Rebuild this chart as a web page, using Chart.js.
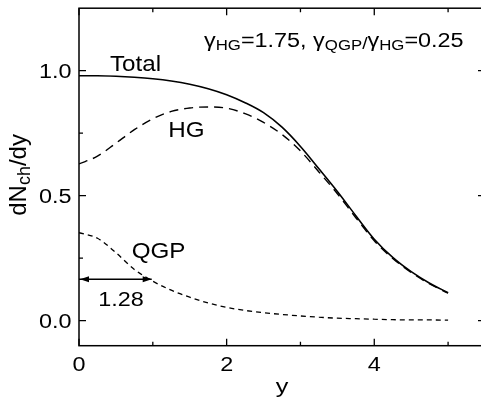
<!DOCTYPE html>
<html>
<head>
<meta charset="utf-8">
<script src="https://cdn.jsdelivr.net/npm/chart.js@4.4.0/dist/chart.umd.min.js"></script>
<style>
  html, body { margin: 0; padding: 0; background: #fff; overflow: hidden; }
  #wrap { position: relative; width: 485px; height: 398px; }
</style>
</head>
<body>
<div id="wrap"><canvas id="rapidityChart"></canvas></div>
<script>
// values, rapidity step 0.25
var rapidity = [0, 0.25, 0.5, 0.75, 1.0, 1.25, 1.5, 1.75, 2.0, 2.25, 2.5,
                2.75, 3.0, 3.25, 3.5, 3.75, 4.0, 4.25, 4.5, 4.75, 5.0];
var totalYield = [0.980, 0.980, 0.978, 0.974, 0.968, 0.959, 0.946, 0.928, 0.904, 0.872, 0.832,
                  0.774, 0.697, 0.608, 0.517, 0.420, 0.326, 0.253, 0.196, 0.150, 0.112];
var hgYield = [0.627, 0.658, 0.710, 0.764, 0.808, 0.837, 0.851, 0.855, 0.850, 0.828, 0.793,
               0.745, 0.679, 0.595, 0.508, 0.412, 0.320, 0.249, 0.193, 0.147, 0.110];
var qgpYield = [0.352, 0.330, 0.272, 0.205, 0.158, 0.122, 0.094, 0.071, 0.053, 0.041, 0.032,
                0.025, 0.019, 0.014, 0.010, 0.008, 0.006, 0.004, 0.003, 0.003, 0.002];
var xTickValues = [0, 2, 4];
var xMinorTicks = [1, 3, 5];
var yTickValues = [0.0, 0.5, 1.0];
var yMinorTicks = [0.25, 0.75];
var arrowEnds = [0, 0.985];   // the "1.28" width arrow
var arrowLevel = 0.166;

var FONT = '"Liberation Sans", Arial, Helvetica, sans-serif';
var SX = 1.2; // text in the figure is a bit wide

function toPoints(xs, ys) {
  return xs.map(function (x, i) { return { x: x, y: ys[i] }; });
}

// parts: [text, size, dy]
function drawRich(ctx, parts, x, y, align, sx) {
  var total = 0;
  parts.forEach(function (p) {
    ctx.font = p[1] + 'px ' + FONT;
    total += ctx.measureText(p[0]).width * sx;
  });
  var cx = x;
  if (align === 'right') cx = x - total;
  if (align === 'center') cx = x - total / 2;
  parts.forEach(function (p) {
    ctx.font = p[1] + 'px ' + FONT;
    var w = ctx.measureText(p[0]).width * sx;
    ctx.save();
    ctx.translate(cx, y + p[2]);
    ctx.scale(sx, 1);
    ctx.textAlign = 'left';
    ctx.textBaseline = 'alphabetic';
    ctx.fillText(p[0], 0, 0);
    ctx.restore();
    cx += w;
  });
}

var framePlugin = {
  id: 'frame',
  afterDraw: function (chart) {
    var ctx = chart.ctx;
    var a = chart.chartArea;
    var xs = chart.scales.x, ys = chart.scales.y;
    ctx.save();
    ctx.strokeStyle = '#000';
    ctx.fillStyle = '#000';
    ctx.lineWidth = 1.5;
    ctx.strokeRect(a.left, a.top, a.right - a.left, a.bottom - a.top);

    // inward ticks on all four sides
    ctx.lineWidth = 1.3;
    function xTick(v, len) {
      var px = xs.getPixelForValue(v);
      ctx.beginPath();
      ctx.moveTo(px, a.bottom); ctx.lineTo(px, a.bottom - len);
      ctx.moveTo(px, a.top); ctx.lineTo(px, a.top + len);
      ctx.stroke();
    }
    function yTick(v, len) {
      var py = ys.getPixelForValue(v);
      ctx.beginPath();
      ctx.moveTo(a.left, py); ctx.lineTo(a.left + len, py);
      ctx.moveTo(a.right, py); ctx.lineTo(a.right - len, py);
      ctx.stroke();
    }
    xTickValues.forEach(function (v) { xTick(v, 7); });
    xMinorTicks.forEach(function (v) { xTick(v, 4); });
    yTickValues.forEach(function (v) { yTick(v, 7); });
    yMinorTicks.forEach(function (v) { yTick(v, 4); });

    // tick labels
    xTickValues.forEach(function (v) {
      drawRich(ctx, [[String(v), 19.5, 0]], xs.getPixelForValue(v), a.bottom + 25, 'center', SX);
    });
    yTickValues.forEach(function (v) {
      drawRich(ctx, [[v.toFixed(1), 19.5, 0]], a.left - 7.5, ys.getPixelForValue(v) + 7, 'right', SX);
    });

    // axis titles
    drawRich(ctx, [['y', 21, 0]], (a.left + a.right) / 2, 392.5, 'center', SX);
    ctx.save();
    ctx.translate(26, (a.top + a.bottom) / 2 - 2);
    ctx.rotate(-Math.PI / 2);
    drawRich(ctx, [['dN', 24, 0], ['ch', 18, 4], ['/dy', 24, 0]], 0, 0, 'center', 1);
    ctx.restore();

    // curve labels
    function at(x, y) { return [xs.getPixelForValue(x), ys.getPixelForValue(y)]; }
    var p;
    p = at(0.42, 0.998); drawRich(ctx, [['Total', 22, 0]], p[0], p[1], 'left', 1.1);
    p = at(1.21, 0.736); drawRich(ctx, [['HG', 22, 0]], p[0], p[1], 'left', 1.1);
    p = at(0.713, 0.252); drawRich(ctx, [['QGP', 22, 0]], p[0], p[1], 'left', 1.1);
    p = at(0.26, 0.06); drawRich(ctx, [['1.28', 19.5, 0]], p[0], p[1], 'left', SX);

    drawRich(ctx, [['\u03b3', 19.5, 0], ['HG', 14, 3.5], ['=1.75, ', 19.5, 0],
                   ['\u03b3', 19.5, 0], ['QGP', 14, 3.5], ['/', 16, 2], ['\u03b3', 19.5, 0],
                   ['HG', 14, 3.5], ['=0.25', 19.5, 0]], 204, 46.7, 'left', SX);

    // arrow heads of the width marker
    var yA = ys.getPixelForValue(arrowLevel);
    var xL = xs.getPixelForValue(arrowEnds[0]) + 1;
    var xR = xs.getPixelForValue(arrowEnds[1]);
    ctx.beginPath();
    ctx.moveTo(xL, yA); ctx.lineTo(xL + 9, yA - 3); ctx.lineTo(xL + 9, yA + 3); ctx.closePath();
    ctx.fill();
    ctx.beginPath();
    ctx.moveTo(xR, yA); ctx.lineTo(xR - 9, yA - 3); ctx.lineTo(xR - 9, yA + 3); ctx.closePath();
    ctx.fill();
    ctx.restore();
  }
};

var ctxRapidity = document.getElementById('rapidityChart').getContext('2d');
var rapidityChart = new Chart(ctxRapidity, {
  type: 'line',
  data: {
    datasets: [{
      label: 'Total',
      data: toPoints(rapidity, totalYield),
      borderColor: '#000',
      borderWidth: 1.6,
      pointRadius: 0,
      cubicInterpolationMode: 'monotone'
    }, {
      label: 'HG',
      data: toPoints(rapidity, hgYield),
      borderColor: '#000',
      borderWidth: 1.4,
      borderDash: [9, 6],
      pointRadius: 0,
      cubicInterpolationMode: 'monotone'
    }, {
      label: 'QGP',
      data: toPoints(rapidity, qgpYield),
      borderColor: '#000',
      borderWidth: 1.3,
      borderDash: [5, 4],
      pointRadius: 0,
      cubicInterpolationMode: 'monotone'
    }, {
      label: 'width',
      data: toPoints(arrowEnds, [arrowLevel, arrowLevel]),
      borderColor: '#000',
      borderWidth: 1.4,
      pointRadius: 0
    }]
  },
  options: {
    responsive: true,
    maintainAspectRatio: false,
    animation: false,
    events: [],
    layout: { padding: { top: 8.2, left: 0, right: 0, bottom: 0 } },
    plugins: { legend: { display: false }, tooltip: { enabled: false } },
    scales: {
      x: {
        type: 'linear',
        min: 0,
        max: 5.5,
        grid: { display: false },
        border: { display: false },
        ticks: { display: false },
        afterBuildTicks: function (scale) {
          scale.ticks = xTickValues.map(function (v) { return { value: v }; });
        },
        afterFit: function (scale) { scale.height = 52.3; }
      },
      y: {
        min: -0.1,
        max: 1.25,
        grid: { display: false },
        border: { display: false },
        ticks: { display: false },
        afterBuildTicks: function (scale) {
          scale.ticks = yTickValues.map(function (v) { return { value: v }; });
        },
        afterFit: function (scale) { scale.width = 79; }
      }
    }
  },
  plugins: [framePlugin]
});
</script>
</body>
</html>
